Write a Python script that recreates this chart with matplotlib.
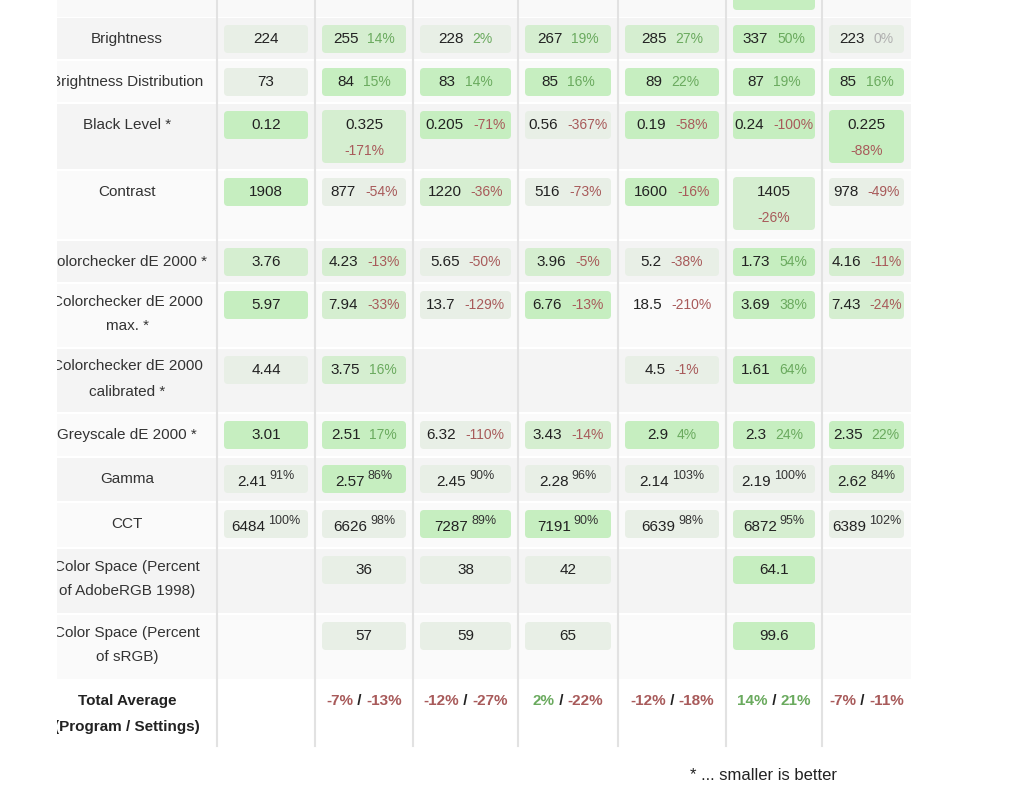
import matplotlib.pyplot as plt
from matplotlib.patches import FancyBboxPatch, Rectangle

plt.rcParams['font.family'] = ['Liberation Sans', 'DejaVu Sans']

row_labels = ["Brightness", "Brightness Distribution", "Black Level *", "Contrast",
              "Colorchecker dE 2000 *", "Colorchecker dE 2000\nmax. *",
              "Colorchecker dE 2000\ncalibrated *", "Greyscale dE 2000 *", "Gamma", "CCT",
              "Color Space (Percent\nof AdobeRGB 1998)", "Color Space (Percent\nof sRGB)"]
values = [
    ["224", "255", "228", "267", "285", "337", "223"],
    ["73", "84", "83", "85", "89", "87", "85"],
    ["0.12", "0.325", "0.205", "0.56", "0.19", "0.24", "0.225"],
    ["1908", "877", "1220", "516", "1600", "1405", "978"],
    ["3.76", "4.23", "5.65", "3.96", "5.2", "1.73", "4.16"],
    ["5.97", "7.94", "13.7", "6.76", "18.5", "3.69", "7.43"],
    ["4.44", "3.75", "", "", "4.5", "1.61", ""],
    ["3.01", "2.51", "6.32", "3.43", "2.9", "2.3", "2.35"],
    ["2.41", "2.57", "2.45", "2.28", "2.14", "2.19", "2.62"],
    ["6484", "6626", "7287", "7191", "6639", "6872", "6389"],
    ["", "36", "38", "42", "", "64.1", ""],
    ["", "57", "59", "65", "", "99.6", ""],
]
percents = [
    ["", "14%", "2%", "19%", "27%", "50%", "0%"],
    ["", "15%", "14%", "16%", "22%", "19%", "16%"],
    ["", "-171%", "-71%", "-367%", "-58%", "-100%", "-88%"],
    ["", "-54%", "-36%", "-73%", "-16%", "-26%", "-49%"],
    ["", "-13%", "-50%", "-5%", "-38%", "54%", "-11%"],
    ["", "-33%", "-129%", "-13%", "-210%", "38%", "-24%"],
    ["", "16%", "", "", "-1%", "64%", ""],
    ["", "17%", "-110%", "-14%", "4%", "24%", "22%"],
    ["91%", "86%", "90%", "96%", "103%", "100%", "84%"],
    ["100%", "98%", "89%", "90%", "98%", "95%", "102%"],
    ["", "", "", "", "", "", ""],
    ["", "", "", "", "", "", ""],
]
# box shade: 0 grey-green, 1 light green, 2 strong green, -1 none
shades = [
    [0, 1, 0, 1, 1, 2, 0],
    [0, 2, 2, 2, 2, 2, 2],
    [2, 1, 2, 0, 2, 2, 2],
    [2, 0, 1, 0, 2, 1, 0],
    [1, 1, 0, 1, 0, 2, 1],
    [2, 1, 0, 2, -1, 2, 1],
    [0, 1, -1, -1, 0, 2, -1],
    [2, 2, 0, 1, 2, 2, 2],
    [0, 2, 0, 0, 0, 0, 1],
    [0, 0, 2, 2, 0, 1, 0],
    [-1, 0, 0, 0, -1, 2, -1],
    [-1, 0, 0, 0, -1, 2, -1],
]
two_line = {(2, 1), (2, 6), (3, 5)}
superscript_rows = {8, 9}
total_prog = ["", "-7%", "-12%", "2%", "-12%", "14%", "-7%"]
total_sett = ["", "-13%", "-27%", "-22%", "-18%", "21%", "-11%"]

col_edges = [57, 217, 315, 413, 518, 618, 726, 822, 911]
row_edges = [17, 60, 103, 170, 240, 283, 348, 413, 457, 502, 548, 614, 680, 746]
shade_colors = {0: "#e8efe6", 1: "#d5eed0", 2: "#c6eec0"}
POS, NEG, ZERO = "#6aaa5e", "#a85a5a", "#b0b0b0"

fig = plt.figure(figsize=(10.24, 7.95), dpi=100)
ax = fig.add_axes([0, 0, 1, 1])
ax.set_xlim(0, 1024)
ax.set_ylim(795, 0)
ax.axis("off")
renderer = fig.canvas.get_renderer()


def width_of(s, size, weight="normal"):
    t = ax.text(0, 0, s, fontsize=size, weight=weight)
    bb = t.get_window_extent(renderer)
    t.remove()
    return bb.width


def pct_color(p):
    if p.startswith("-"):
        return NEG
    if p in ("0%",):
        return ZERO
    return POS


def box(x0, x1, y0, y1, color):
    ax.add_patch(FancyBboxPatch((x0, y0), x1 - x0, y1 - y0,
                                boxstyle="round,pad=0,rounding_size=4",
                                fc=color, ec="none", zorder=2))


# background rows
ax.add_patch(Rectangle((57, 0), 854, 17, fc="#f9f9f9", ec="none", zorder=0))
for i in range(len(row_edges) - 1):
    c = "#f4f4f4" if i % 2 == 0 else "#fafafa"
    if i == len(row_edges) - 2:
        c = "#ffffff"
    ax.add_patch(Rectangle((57, row_edges[i] + 1), 854, row_edges[i + 1] - row_edges[i] - 2,
                           fc=c, ec="none", zorder=0))
for x in col_edges[1:-1]:
    ax.plot([x, x], [0, 746], color="#e2e2e2", lw=1.5, zorder=1)

# clipped box of top row
box(col_edges[6] + 7, col_edges[7] - 7, -20, 10, shade_colors[2])

FS, PS = 11, 10
for r, label in enumerate(row_labels):
    top = row_edges[r]
    ax.text(127, top + 22 if "\n" not in label else top + 31, label, ha="center",
            va="center", fontsize=FS, color="#333333", linespacing=2.0, zorder=3)
    for c in range(7):
        v, p, s = values[r][c], percents[r][c], shades[r][c]
        if not v:
            continue
        x0, x1 = col_edges[c + 1] + 7, col_edges[c + 2] - 7
        cx = (x0 + x1) / 2
        yc = top + 22
        if (r, c) in two_line:
            if s >= 0:
                box(x0, x1, top + 7, top + 60, shade_colors[s])
            ax.text(cx, yc, v, ha="center", va="center", fontsize=FS, color="#222222", zorder=3)
            ax.text(cx, yc + 26, p, ha="center", va="center", fontsize=PS, color=pct_color(p), zorder=3)
            continue
        if s >= 0:
            box(x0, x1, top + 8, top + 36, shade_colors[s])
        if not p:
            ax.text(cx, yc, v, ha="center", va="center", fontsize=FS, color="#222222", zorder=3)
            continue
        sup = r in superscript_rows
        psz = 9 if sup else PS
        gap = 3 if sup else 9
        w1, w2 = width_of(v, FS), width_of(p, psz)
        start = cx - (w1 + gap + w2) / 2
        ax.text(start, yc + (3 if sup else 0), v, ha="left", va="center", fontsize=FS,
                color="#222222", zorder=3)
        ax.text(start + w1 + gap, yc - (3 if sup else 0), p, ha="left", va="center",
                fontsize=psz, color="#333333" if sup else pct_color(p), zorder=3)

# total row
top = row_edges[-2]
ax.text(127, top + 34, "Total Average\n(Program / Settings)", ha="center", va="center",
        fontsize=FS, weight="bold", color="#222222", linespacing=2.0, zorder=3)
for c in range(1, 7):
    a, b = total_prog[c], total_sett[c]
    cx = (col_edges[c + 1] + col_edges[c + 2]) / 2
    parts = [(a, pct_color(a)), (" / ", "#222222"), (b, pct_color(b))]
    widths = [width_of(t, FS, "bold") for t, _ in parts]
    x = cx - sum(widths) / 2
    for (t, col), w in zip(parts, widths):
        ax.text(x, top + 21, t, ha="left", va="center", fontsize=FS, weight="bold",
                color=col, zorder=3)
        x += w

# clip edges
ax.add_patch(Rectangle((0, -30), 57, 900, fc="white", ec="none", zorder=5))
ax.add_patch(Rectangle((911, -30), 200, 900, fc="white", ec="none", zorder=5))

ax.text(690, 776, "* ... smaller is better", ha="left", va="center", fontsize=12,
        color="#222222", zorder=6)

fig.savefig("out.png", dpi=100)
